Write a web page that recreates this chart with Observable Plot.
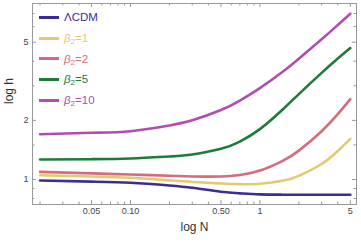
<!DOCTYPE html>
<html><head><meta charset="utf-8">
<script src="https://cdn.jsdelivr.net/npm/d3@7"></script>
<script src="https://cdn.jsdelivr.net/npm/@observablehq/plot@0.6"></script>
<style>
body{margin:0;background:#fff;}
#wrap{position:relative;width:361px;height:242px;font-family:"Liberation Sans",Arial,sans-serif;}
.lg{position:absolute;left:0;height:0;}
.lg .sw{position:absolute;left:39px;width:20px;height:3px;top:-1.5px;}
.lg .tx{position:absolute;left:64px;top:-8px;font-size:11.5px;line-height:16px;white-space:nowrap;}
.lg sub{font-size:8px;vertical-align:-2px;line-height:0;}
</style></head>
<body><div id="wrap"></div>
<script>
const nGrid  = [0.02, 0.05, 0.1, 0.2, 0.3, 0.5, 0.7, 1, 1.5, 2, 3, 4, 5];
const hLCDM  = [0.988, 0.975, 0.962, 0.932, 0.907, 0.866, 0.850, 0.840, 0.837, 0.836, 0.836, 0.836, 0.836];
const hBeta1 = [1.052, 1.035, 1.020, 0.990, 0.972, 0.955, 0.947, 0.952, 0.985, 1.043, 1.199, 1.397, 1.611];
const hBeta2 = [1.094, 1.075, 1.060, 1.045, 1.036, 1.036, 1.055, 1.110, 1.245, 1.403, 1.762, 2.150, 2.564];
const hBeta5 = [1.264, 1.269, 1.279, 1.310, 1.341, 1.433, 1.560, 1.805, 2.272, 2.722, 3.490, 4.127, 4.667];
const hBeta10= [1.70, 1.73, 1.762, 1.884, 2.001, 2.259, 2.523, 2.921, 3.539, 4.122, 5.173, 6.118, 6.98];
const seriesNames  = ["ΛCDM", "β2=1", "β2=2", "β2=5", "β2=10"];
const seriesLabels = ["ΛCDM", "<i>β</i><sub>2</sub>=1", "<i>β</i><sub>2</sub>=2", "<i>β</i><sub>2</sub>=5", "<i>β</i><sub>2</sub>=10"];
const seriesColors = ["#3b2d98", "#e3ca70", "#d56b7c", "#1f7b3b", "#b04eb0"];
const xMajor = [0.05, 0.1, 0.5, 1, 5];
const xMajorLabels = ["0.05", "0.10", "0.50", "1", "5"];
const xMinor = [0.02,0.03,0.04,0.06,0.07,0.08,0.09,0.2,0.3,0.4,0.6,0.7,0.8,0.9,2,3,4];
const yMajor = [1, 2, 5];
const yMajorLabels = ["1", "2", "5"];
const yMinor = [0.8, 0.9, 1.5, 3, 4, 6, 7];

const allH = [hLCDM, hBeta1, hBeta2, hBeta5, hBeta10];
const data = [];
allH.forEach((arr, s) => arr.forEach((h, i) => data.push({series: seriesNames[s], N: nGrid[i], h})));

const W = 361, H = 242, mL = 32, mR = 5, mT = 3, mB = 38;
const fw = W - mL - mR, fh = H - mT - mB;
const tc = "#9a9a9a";
const chart = Plot.plot({
  width: W, height: H,
  marginLeft: mL, marginRight: mR, marginTop: mT, marginBottom: mB,
  style: {fontFamily: "'Liberation Sans', Arial, sans-serif", fontSize: "9px", color: "#444", background: "#fff"},
  x: {type: "log", domain: [0.01748, 5.58], axis: null},
  y: {type: "log", domain: [0.746, 7.87], axis: null},
  color: {domain: seriesNames, range: seriesColors},
  marks: [
    Plot.line(data, {x: "N", y: "h", stroke: "series", z: "series", strokeWidth: 2.6, curve: "natural"}),
    Plot.frame({stroke: tc}),
    Plot.ruleX(xMajor, {x: d => d, insetTop: fh - 4, stroke: tc}),
    Plot.ruleX(xMinor, {x: d => d, insetTop: fh - 2.5, stroke: tc}),
    Plot.ruleX(xMajor, {x: d => d, insetBottom: fh - 4, stroke: tc}),
    Plot.ruleX(xMinor, {x: d => d, insetBottom: fh - 2.5, stroke: tc}),
    Plot.ruleY(yMajor, {y: d => d, insetRight: fw - 4, stroke: tc}),
    Plot.ruleY(yMinor, {y: d => d, insetRight: fw - 2.5, stroke: tc}),
    Plot.ruleY(yMajor, {y: d => d, insetLeft: fw - 4, stroke: tc}),
    Plot.ruleY(yMinor, {y: d => d, insetLeft: fw - 2.5, stroke: tc}),
    Plot.text(xMajor, {x: d => d, text: d => xMajorLabels[xMajor.indexOf(d)], frameAnchor: "bottom", dy: 9, fontSize: 9, fill: "#444"}),
    Plot.text(yMajor, {y: d => d, text: d => yMajorLabels[yMajor.indexOf(d)], frameAnchor: "left", dx: -4, textAnchor: "end", fontSize: 9, fill: "#444"}),
    Plot.text(["log N"], {frameAnchor: "bottom", dy: 26, fontSize: 12, fill: "#333"}),
    Plot.text(["log h"], {frameAnchor: "left", dx: -23, rotate: -90, fontSize: 12, fill: "#333"})
  ]
});
const wrap = document.getElementById("wrap");
wrap.appendChild(chart);
seriesNames.forEach((name, i) => {
  const d = document.createElement("div");
  d.className = "lg";
  d.style.top = (17.3 + i * 20.7) + "px";
  d.innerHTML = `<div class="sw" style="background:${seriesColors[i]}"></div><div class="tx" style="color:${seriesColors[i]}">${seriesLabels[i]}</div>`;
  wrap.appendChild(d);
});
</script>
</body></html>
